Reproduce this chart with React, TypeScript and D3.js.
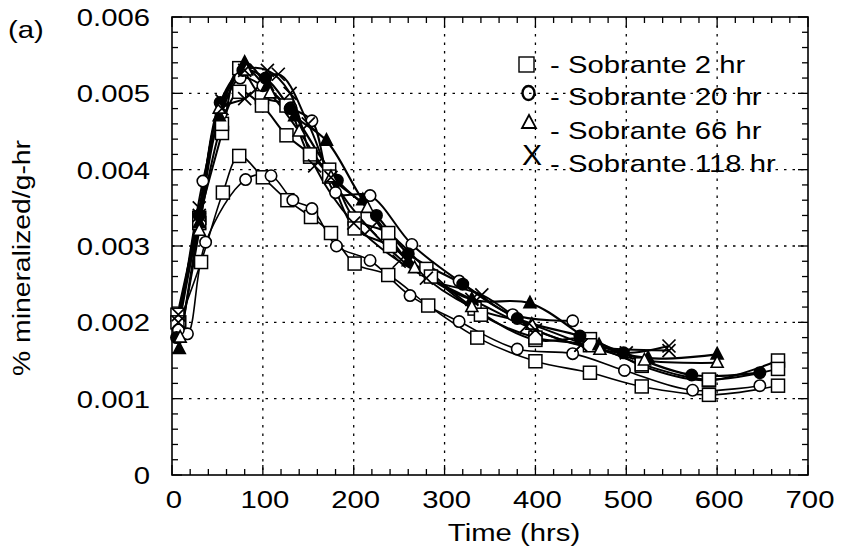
import React from "react";
import * as d3 from "d3";

// ---------- data ----------
const xTicks = [0, 100, 200, 300, 400, 500, 600, 700];
const yTicks = [0, 0.001, 0.002, 0.003, 0.004, 0.005, 0.006];
const yTickLabels = ["0", "0.001", "0.002", "0.003", "0.004", "0.005", "0.006"];
const legendLabels = ["Sobrante 2 hr", "Sobrante 20 hr", "Sobrante 66 hr", "Sobrante 118 hr"];

// lower replicate
const low2T = [8, 32, 56, 74, 100, 127, 153, 175, 201, 238, 282, 336, 400, 460, 517, 591, 667];
const low2V = [0.002, 0.00279, 0.0037, 0.00418, 0.0039, 0.0036, 0.00338, 0.00317, 0.00277, 0.00262, 0.00222, 0.0018, 0.00149, 0.00134, 0.00116, 0.00105, 0.00117];
const low20T = [8, 17, 37, 81, 109, 133, 154, 181, 218, 262, 316, 380, 441, 498, 573, 647];
const low20V = [0.0019, 0.00185, 0.00305, 0.00387, 0.00392, 0.0036, 0.00349, 0.003, 0.00281, 0.00235, 0.00201, 0.00165, 0.00159, 0.00137, 0.00111, 0.00117];

// upper replicates
const up2aT = [6, 30, 55, 74, 99, 126, 152, 173, 201, 238, 280, 333, 400, 460, 517, 591, 667];
const up2aV = [0.0021, 0.00337, 0.00448, 0.00533, 0.00495, 0.00484, 0.00417, 0.004, 0.00336, 0.00317, 0.0027, 0.00218, 0.00177, 0.00178, 0.00143, 0.00124, 0.0015];
const up2bT = [6, 30, 55, 74, 99, 126, 152, 173, 201, 240, 285, 340, 400, 460, 517, 591, 667];
const up2bV = [0.002, 0.0033, 0.0046, 0.00502, 0.00484, 0.00445, 0.0042, 0.00391, 0.00323, 0.003, 0.0026, 0.0021, 0.0018, 0.0017, 0.00145, 0.00125, 0.00139];
const up20aT = [7, 34, 54, 75, 100, 131, 154, 180, 218, 264, 316, 375, 441];
const up20aV = [0.0019, 0.00385, 0.00473, 0.0052, 0.0051, 0.00481, 0.00464, 0.0037, 0.00366, 0.00302, 0.00254, 0.0021, 0.00202];
const up20bT = [5, 30, 53, 78, 103, 130, 182, 225, 260, 320, 380, 449, 497, 572, 647];
const up20bV = [0.0018, 0.0034, 0.00488, 0.0053, 0.0052, 0.0048, 0.00386, 0.0034, 0.0029, 0.0025, 0.00205, 0.00182, 0.0016, 0.00131, 0.00134];
const up66aT = [8, 30, 52, 80, 105, 135, 170, 210, 260, 330, 394, 470, 524, 600];
const up66aV = [0.00165, 0.0033, 0.0047, 0.0054, 0.0051, 0.0047, 0.00438, 0.0036, 0.0028, 0.0023, 0.00225, 0.0017, 0.00153, 0.00158];
const up66bT = [9, 30, 52, 82, 108, 140, 175, 215, 267, 330, 396, 471, 520, 600];
const up66bV = [0.0018, 0.0032, 0.0048, 0.0053, 0.005, 0.0045, 0.0039, 0.0035, 0.00271, 0.0022, 0.00197, 0.00164, 0.0015, 0.00147];
const up118aT = [7, 30, 55, 80, 117, 150, 175, 218, 280, 341, 400, 450, 500, 547];
const up118aV = [0.0021, 0.0034, 0.0048, 0.00493, 0.00525, 0.0046, 0.0039, 0.00322, 0.00258, 0.00236, 0.0019, 0.0017, 0.0016, 0.00169];
const up118bT = [7, 30, 55, 80, 105, 130, 157, 200, 250, 330, 390, 450, 547];
const up118bV = [0.002, 0.0035, 0.0049, 0.0053, 0.0053, 0.005, 0.00405, 0.0033, 0.0028, 0.0023, 0.00195, 0.0017, 0.00163];

type Mk = "square" | "circle" | "triangle" | "x";
const series: { t: number[]; v: number[]; m: Mk; filled: boolean; w: number }[] = [
  { t: low2T, v: low2V, m: "square", filled: false, w: 1.6 },
  { t: low20T, v: low20V, m: "circle", filled: false, w: 1.6 },
  { t: up2aT, v: up2aV, m: "square", filled: false, w: 2 },
  { t: up2bT, v: up2bV, m: "square", filled: false, w: 2 },
  { t: up20aT, v: up20aV, m: "circle", filled: false, w: 2 },
  { t: up20bT, v: up20bV, m: "circle", filled: true, w: 2.2 },
  { t: up66aT, v: up66aV, m: "triangle", filled: true, w: 2.2 },
  { t: up66bT, v: up66bV, m: "triangle", filled: false, w: 2 },
  { t: up118aT, v: up118aV, m: "x", filled: false, w: 2 },
  { t: up118bT, v: up118bV, m: "x", filled: false, w: 2 },
];

// ---------- layout ----------
const W = 853, H = 556;
const L = 172, R = 808, T = 17, B = 475;
const FONT = "'Liberation Sans', Arial, Helvetica, sans-serif";
const FS = 24;
const SX = 1.22;

function Marker({ m, x, y, filled }: { m: Mk; x: number; y: number; filled: boolean }) {
  const fill = filled ? "#000" : "#fff";
  if (m === "square") return <rect x={x - 6.5} y={y - 6.5} width={13} height={13} fill={fill} stroke="#000" strokeWidth={1.5} />;
  if (m === "circle") return <circle cx={x} cy={y} r={5.7} fill={fill} stroke="#000" strokeWidth={1.6} />;
  if (m === "triangle") return <path d={`M${x},${y - 7}L${x + 6},${y + 4.5}L${x - 6},${y + 4.5}Z`} fill={fill} stroke="#000" strokeWidth={1.6} />;
  return <path d={`M${x - 6.5},${y - 6.5}L${x + 6.5},${y + 6.5}M${x + 6.5},${y - 6.5}L${x - 6.5},${y + 6.5}`} stroke="#000" strokeWidth={1.7} />;
}

function SText({ x, y, anchor, children, size = FS, rotate = 0, sx = SX }: any) {
  return (
    <text
      transform={`translate(${x},${y}) rotate(${rotate}) scale(${sx},1)`}
      textAnchor={anchor}
      fontFamily={FONT}
      fontSize={size}
      fill="#000"
    >
      {children}
    </text>
  );
}

export default function App() {
  const x = d3.scaleLinear().domain([0, 700]).range([L, R]);
  const y = d3.scaleLinear().domain([0, 0.006]).range([B, T]);
  const line = d3
    .line<[number, number]>()
    .x((d) => x(d[0]))
    .y((d) => y(d[1]))
    .curve(d3.curveCatmullRom.alpha(0.5));

  const xMinor = d3.range(0, 701, 20);
  const yMinor = d3.range(0, 0.00601, 0.0002);

  return (
    <svg width={W} height={H} style={{ position: "absolute", left: 0, top: 0 }}>
      <rect width={W} height={H} fill="#fff" />
      {/* grid */}
      {xTicks.slice(1, -1).map((t) => (
        <line key={"gx" + t} x1={x(t)} x2={x(t)} y1={T} y2={B} stroke="#000" strokeWidth={1.3} strokeDasharray="2.5,6" />
      ))}
      {yTicks.slice(1, -1).map((t) => (
        <line key={"gy" + t} x1={L} x2={R} y1={y(t)} y2={y(t)} stroke="#000" strokeWidth={1.3} strokeDasharray="2.5,6" />
      ))}
      {/* ticks */}
      {xMinor.map((t, i) => {
        const len = i % 5 === 0 ? 10 : 6;
        return (
          <g key={"xt" + i}>
            <line x1={x(t)} x2={x(t)} y1={B} y2={B - len} stroke="#000" strokeWidth={1.3} />
            <line x1={x(t)} x2={x(t)} y1={T} y2={T + len} stroke="#000" strokeWidth={1.3} />
          </g>
        );
      })}
      {yMinor.map((t, i) => {
        const len = i % 5 === 0 ? 10 : 6;
        return (
          <g key={"yt" + i}>
            <line x1={L} x2={L + len} y1={y(t)} y2={y(t)} stroke="#000" strokeWidth={1.3} />
            <line x1={R} x2={R - len} y1={y(t)} y2={y(t)} stroke="#000" strokeWidth={1.3} />
          </g>
        );
      })}
      <rect x={L} y={T} width={R - L} height={B - T} fill="none" stroke="#000" strokeWidth={1.6} />

      {/* lines */}
      {series.map((s, i) => (
        <path
          key={"l" + i}
          d={line(s.t.map((t, j) => [t, s.v[j]] as [number, number])) || ""}
          fill="none"
          stroke="#000"
          strokeWidth={s.w}
        />
      ))}
      {/* markers */}
      {series.map((s, i) =>
        s.t.map((t, j) => <Marker key={`m${i}-${j}`} m={s.m} x={x(t)} y={y(s.v[j])} filled={s.filled} />)
      )}

      {/* axis labels */}
      {yTicks.map((t, i) => (
        <SText key={"yl" + i} x={150} y={y(t) + 9} anchor="end">
          {yTickLabels[i]}
        </SText>
      ))}
      {xTicks.map((t) => (
        <SText key={"xl" + t} x={x(t) + 2} y={508} anchor="middle">
          {String(t)}
        </SText>
      ))}
      <SText x={514} y={541} anchor="middle">Time (hrs)</SText>
      <SText x={30} y={258} anchor="middle" rotate={-90} size={24} sx={1.18}>% mineralized/g-hr</SText>
      <SText x={8} y={38} anchor="start">(a)</SText>

      {/* legend */}
      <rect x={519} y={57} width={15} height={15} fill="#fff" stroke="#000" strokeWidth={1.4} />
      <ellipse cx={528.5} cy={93} rx={6} ry={7} fill="none" stroke="#000" strokeWidth={2.4} />
      <path d="M529,115L536,128L522,128Z" fill="none" stroke="#000" strokeWidth={1.8} />
      <text x={532} y={165} textAnchor="middle" fontFamily={FONT} fontSize={30} fill="#000">X</text>
      {legendLabels.map((lab, i) => (
        <SText key={"lg" + i} x={550} y={[73, 105, 139, 172][i]} anchor="start">
          {"- " + lab}
        </SText>
      ))}
    </svg>
  );
}
